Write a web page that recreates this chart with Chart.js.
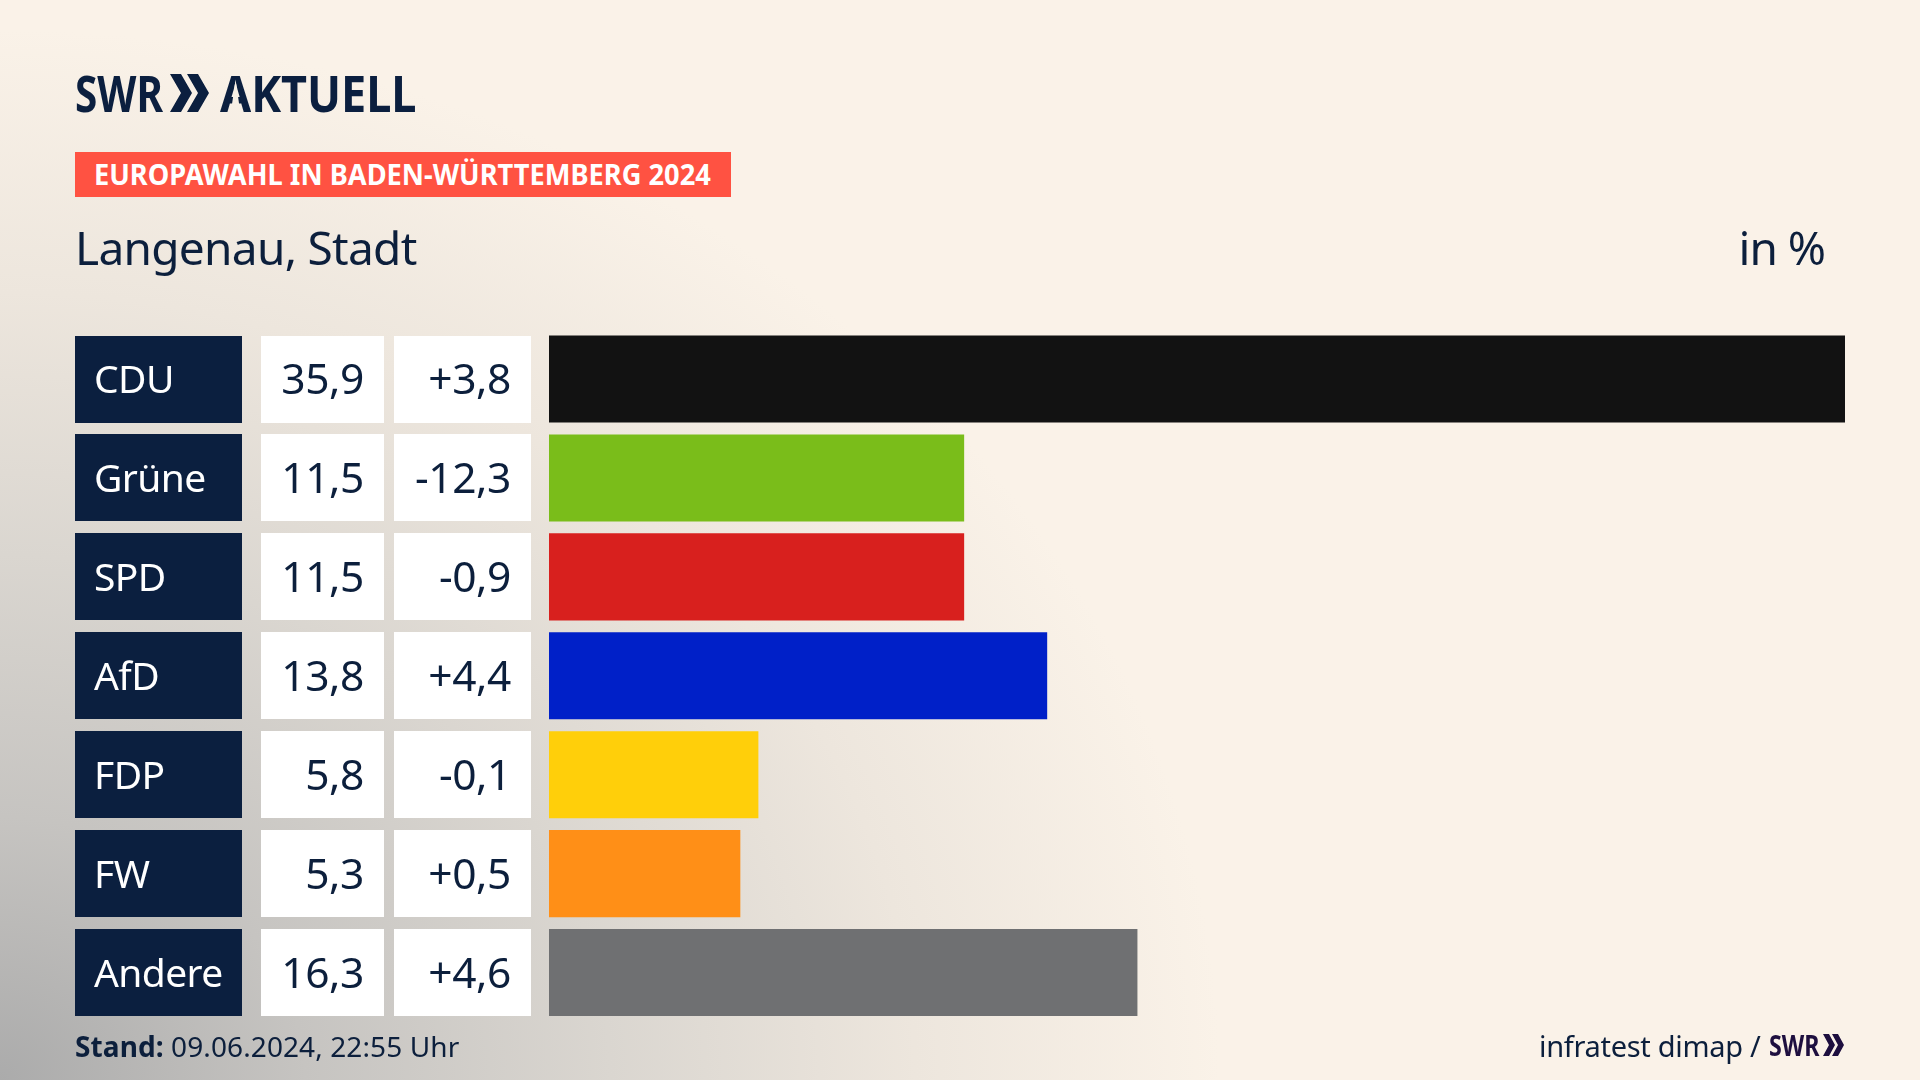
<!DOCTYPE html>
<html lang="de"><head><meta charset="utf-8"><title>Europawahl Langenau</title>
<script src="https://cdn.jsdelivr.net/npm/chart.js@4"></script>
<style>
html,body{margin:0;padding:0;width:1920px;height:1080px;overflow:hidden}
body{position:relative;background:#FAF2E8;font-family:"Noto Sans",sans-serif;color:#0C1F3C}
#bg{position:absolute;inset:0;background:radial-gradient(ellipse 1220px 1050px at 0 1080px,#ABABAB 0%,#C6C4C1 25%,#DAD6D0 50%,#EDE6DD 75%,rgba(250,242,232,0) 100%)}
canvas{position:absolute;left:0;top:0}
.t{position:absolute;white-space:nowrap;line-height:1}
.logo{font:700 50px 'Noto Sans';color:#0B1F3F;transform-origin:0 0}
.chev{position:absolute;background:#0B1F3F;clip-path:polygon(0 0,50% 0,100% 50%,50% 100%,0 100%,50% 50%)}
</style></head><body>
<div id="bg"></div>
<canvas id="c" width="1920" height="1080"></canvas>
<div class="t logo" style="left:75px;top:59px;transform:scaleX(.81)">SWR</div>
<div class="chev" style="left:170px;top:74px;width:22px;height:38px"></div>
<div class="chev" style="left:187px;top:74px;width:22px;height:38px"></div>
<div class="t logo" style="left:220px;top:59px;transform:scaleX(.9)"><span style="display:inline-block;clip-path:polygon(0 0,100% 0,100% 100%,72% 100%,50% 30%,28% 100%,0 100%)">A</span>KTUELL</div>
<div class="t" style="left:75px;top:152px;width:656px;height:45px;background:#FF5242"></div>
<div class="t" id="ban" style="left:94px;top:155px;font:700 28px 'Noto Sans';color:#FFF;transform-origin:0 0;transform:scaleX(.973)">EUROPAWAHL IN BADEN-WÜRTTEMBERG 2024</div>
<div class="t" style="left:75px;top:216px;font:400 46px 'Noto Sans';letter-spacing:-.7px">Langenau, Stadt</div>
<div class="t" style="right:95px;top:216px;font:400 46px 'Noto Sans';letter-spacing:-1px">in %</div>
<div class="t" style="left:75px;top:1027px;font:400 28px 'Noto Sans';letter-spacing:.1px"><b>Stand:</b> 09.06.2024, 22:55 Uhr</div>
<div class="t" style="left:1539px;top:1026px;font:400 29px 'Noto Sans';letter-spacing:-.3px">infratest dimap /</div>
<div class="t" style="left:1769px;top:1026px;font:700 28px 'Noto Sans';color:#1E0F3F;transform-origin:0 0;transform:scaleX(.83)">SWR</div>
<div class="chev" style="left:1823px;top:1034px;width:12px;height:22px;background:#1E0F3F"></div>
<div class="chev" style="left:1832px;top:1034px;width:12px;height:22px;background:#1E0F3F"></div>
<script>
const parties = ['CDU','Grüne','SPD','AfD','FDP','FW','Andere'];
const shares = [35.9,11.5,11.5,13.8,5.8,5.3,16.3];
const changes = [3.8,-12.3,-0.9,4.4,-0.1,0.5,4.6];
const colors = ['#121212','#7ABD1A','#D8201E','#0020C8','#FFCF0A','#FF8F17','#6F7072'];
const fmt = v => v.toFixed(1).replace('.',',');
const signed = v => (v>0?'+':'')+fmt(v);
const tablePlugin = {
  id:'table',
  beforeDraw(chart){
    const c=chart.ctx,y=chart.scales.y;
    c.letterSpacing='-0.6px';
    const h=87;
    parties.forEach((_,i)=>{
      const t=Math.round(y.getPixelForValue(i)-h/2);
      c.fillStyle='#0B1F3F';c.fillRect(75,t,167,h);
      c.fillStyle='#FFFFFF';c.fillRect(261,t,123,h);c.fillRect(394,t,137,h);
    });
  },
  afterDatasetsDraw(chart){
    const c=chart.ctx,y=chart.scales.y;
    c.save();c.letterSpacing='-0.4px';c.font="400 42.5px 'Noto Sans'";c.fillStyle='#0C1F3C';c.textAlign='right';c.textBaseline='middle';
    parties.forEach((_,i)=>{
      const m=y.getPixelForValue(i)+3;
      c.fillText(fmt(shares[i]),364,m);
      c.fillText(signed(changes[i]),511,m);
    });
    c.restore();
  }
};
new Chart(document.getElementById('c'),{
  type:'bar',
  data:{labels:parties,datasets:[{data:shares,backgroundColor:colors,borderWidth:0,barPercentage:87/98.83,categoryPercentage:1}]},
  plugins:[tablePlugin],
  options:{
    indexAxis:'y',responsive:false,animation:false,devicePixelRatio:1,
    layout:{padding:{left:94,top:329.6,bottom:58,right:75}},
    plugins:{legend:{display:false},tooltip:{enabled:false},title:{display:false}},
    scales:{
      x:{display:false,min:0,max:35.9},
      y:{
        afterFit(a){a.width=455},
        border:{display:false},grid:{display:false,drawTicks:false},
        ticks:{crossAlign:'far',color:'#FFFFFF',autoSkip:false,padding:0,labelOffset:3,font:{family:'Noto Sans',size:39,weight:'400'}}
      }
    }
  }
});
</script>
</body></html>
